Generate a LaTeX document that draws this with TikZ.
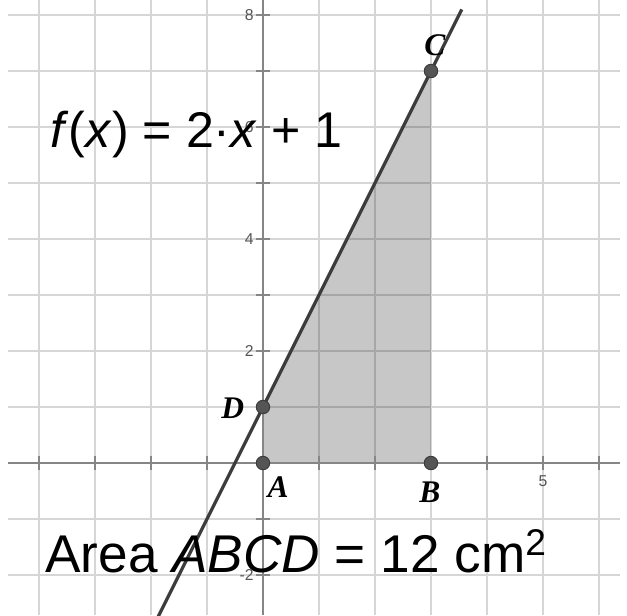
\documentclass[tikz,border=0pt]{standalone}
\usepackage{fontspec}
\setmainfont{Liberation Sans}
\newfontfamily\ptfont{Liberation Serif}
\usetikzlibrary{positioning}
\definecolor{ink}{HTML}{3C3C3C}
\definecolor{gridgray}{HTML}{D6D6D6}
\definecolor{axisgray}{HTML}{868686}
\definecolor{dotgray}{HTML}{555555}
\definecolor{numgray}{HTML}{555555}
\tikzset{
  ptdot/.style={circle,fill=dotgray,draw=ink,line width=0.5pt,inner sep=0pt,minimum size=0.24cm},
  ptlabel/.style={text=black,font=\ptfont\fontsize{16}{16}\selectfont\bfseries\itshape,inner sep=0pt},
  ticklabel/.style={text=numgray,font=\fontsize{8}{8}\selectfont,inner sep=0pt},
  bigtext/.style={text=black,font=\fontsize{26}{26}\selectfont,inner sep=0pt,anchor=base west}
}
\begin{document}
\begin{tikzpicture}[x=1cm,y=1cm]
\useasboundingbox[fill=white] (-4.696,-2.714) rectangle (6.5,8.268);
% grid
\foreach \x in {-4,...,6} \draw[gridgray,line width=1pt] (\x,-2.714) -- (\x,8.268);
\foreach \y in {-2,...,8} \draw[gridgray,line width=1pt] (-4.55,\y) -- (6.37,\y);
% the trapezoid
\coordinate (A) at (0,0);
\coordinate (B) at (3,0);
\coordinate (C) at (3,7);
\coordinate (D) at (0,1);
\fill[black,fill opacity=0.22] (A) -- (B) -- (C) -- (D) -- cycle;
% axes and ticks
\draw[axisgray,line width=0.9pt] (-4.55,0) -- (6.37,0);
\draw[axisgray,line width=0.9pt] (0,-2.714) -- (0,8.268);
\foreach \x in {-4,...,-1,1,2,...,6} \draw[axisgray,line width=0.9pt] (\x,-0.13) -- (\x,0.13);
\foreach \y in {-2,-1,1,2,...,8} \draw[axisgray,line width=0.9pt] (-0.13,\y) -- (0.13,\y);
\foreach \y in {-2,2,4,6,8} \node[ticklabel,anchor=east] (ylab\y) at (-0.16,\y) {\y};
\node[ticklabel,anchor=north] (xlab5) at (5,-0.22) {5};
% the graph of f
\coordinate (lo) at (-1.9,-2.8);
\coordinate (hi) at (3.55,8.1);
\draw[ink,line width=1.6pt] (lo) -- (hi);
% points
\node[ptdot] (pA) at (A) {};
\node[ptdot] (pB) at (B) {};
\node[ptdot] (pC) at (C) {};
\node[ptdot] (pD) at (D) {};
\node[ptlabel] (labA) at (0.27,-0.43) {A};
\node[ptlabel] (labB) at (2.98,-0.52) {B};
\node[ptlabel] (labC) at (3.07,7.46) {C};
\node[ptlabel] (labD) at (-0.54,0.98) {D};
% texts
\node[bigtext,font=\fontsize{25.5}{26}\selectfont] (ftext) at (-3.80,5.63) {\textit{f}(\textit{x}) = 2·\textit{x} + 1};
\node[bigtext,font=\fontsize{27}{27}\selectfont] (area) at (-3.89,-1.96) {Area \textit{ABCD} = 12 cm\textsuperscript{2}};
\end{tikzpicture}
\end{document}
